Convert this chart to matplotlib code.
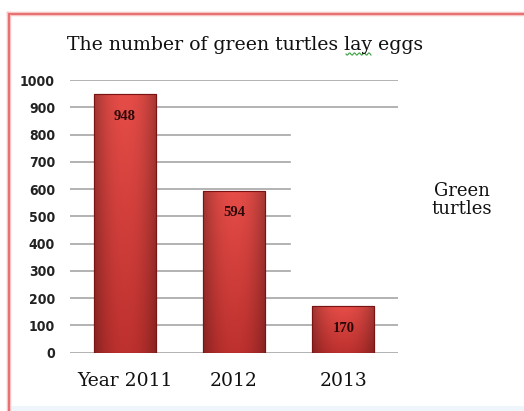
import numpy as np
import matplotlib
matplotlib.use("Agg")
import matplotlib.pyplot as plt
from matplotlib.patches import Rectangle
from matplotlib.transforms import ScaledTranslation
from matplotlib import font_manager

categories = ["Year 2011", "2012", "2013"]
values = [948, 594, 170]
value_labels = ["948", "594", "170"]
yticks = [0, 100, 200, 300, 400, 500, 600, 700, 800, 900, 1000]
title = "The number of green turtles lay eggs"
legend_label = "Green\nturtles"

W, H = 524, 411
fig = plt.figure(figsize=(W / 100, H / 100), dpi=100)
fig.patch.set_facecolor("white")

# frame and bottom strip
fig.patches.append(Rectangle((11 / W, 0), 1 - 11 / W, 5 / H, transform=fig.transFigure,
                             facecolor="#eef6fb", edgecolor="none", zorder=0))
for lw, c in [(3.2, "#f6c4c4"), (1.4, "#e87070")]:
    fig.add_artist(plt.Line2D([9 / W, 9 / W], [0, 1 - 14 / H], transform=fig.transFigure,
                              color=c, lw=lw, zorder=1))
    fig.add_artist(plt.Line2D([9 / W, 1], [1 - 14 / H, 1 - 14 / H], transform=fig.transFigure,
                              color=c, lw=lw, zorder=1))

ax = fig.add_axes([70 / W, (H - 352.7) / H, 328 / W, (352.7 - 80) / H])
ax.set_facecolor("none")
x = np.arange(len(categories))
ax.set_xlim(-0.5, 2.5)
ax.set_ylim(0, 1000)

# gridlines (middle ones are partially hidden in the original)
for t in yticks:
    xmax = 0.671 if 300 <= t <= 800 else 1.0
    ax.axhline(t, xmin=0, xmax=xmax, color="#a6a6a6", lw=1.2, zorder=1)

bars = ax.bar(x, values, width=0.57, color="#c83430", edgecolor="#7a1414", lw=0.8, zorder=2)

# shaded bar fill: darker at the sides and towards the bottom
hx = np.linspace(0, 1, 128)
side = 1 - 0.3 * np.abs(2 * hx - 1) ** 2.2
base_top = np.array([0.90, 0.30, 0.28])
base_bot = np.array([0.74, 0.19, 0.18])
for b in bars:
    x0, y0, bw, bh = b.get_x(), b.get_y(), b.get_width(), b.get_height()
    ny = 64
    vy = np.linspace(0, 1, ny)[:, None, None]  # 0 at top, 1 at bottom
    col = base_top * (1 - vy) + base_bot * vy
    img = np.clip(col * side[None, :, None], 0, 1)
    im = ax.imshow(img, extent=[x0, x0 + bw, y0, y0 + bh], aspect="auto", zorder=2.5,
                   interpolation="bilinear")
    im.set_clip_path(b)
    ax.add_patch(Rectangle((x0, y0), bw, bh, facecolor="none", edgecolor="#7a1414", lw=0.8, zorder=3))

for xi, v, lab in zip(x, values, value_labels):
    ax.annotate(lab, (xi, v), xytext=(0, -22), textcoords="offset pixels", ha="center", va="center",
                fontsize=10.5, fontweight="bold", family=["Liberation Serif", "DejaVu Serif"],
                color="#2a0808", zorder=4)

ax.set_xticks(x)
ax.set_xticklabels(categories, family="DejaVu Serif", fontsize=13.5, color="#111111")
label_shift = [10, 1, 7]
for lbl, dx in zip(ax.get_xticklabels(), label_shift):
    lbl.set_transform(lbl.get_transform() + ScaledTranslation(dx / 100, 0, fig.dpi_scale_trans))

ax.set_yticks(yticks)
narrow = font_manager.FontProperties(family="DejaVu Sans", weight="bold", stretch="condensed", size=10)
ax.set_yticklabels([str(t) for t in yticks])
for lbl in ax.get_yticklabels():
    lbl.set_fontproperties(narrow)
    lbl.set_color("#222222")
ax.tick_params(axis="both", length=0)
ax.tick_params(axis="x", pad=14)
ax.tick_params(axis="y", pad=10.8)
for s in ax.spines.values():
    s.set_visible(False)

fig.text(67 / W, 1 - 45 / H, title, family="DejaVu Serif", fontsize=13.6, ha="left", va="center",
         color="#111111")
# spell-check squiggle under "lay"
sx = np.linspace(346, 371, 25)
sy = 54 + 1.2 * np.sin((sx - 346) * 1.3)
fig.add_artist(plt.Line2D(sx / W, 1 - sy / H, transform=fig.transFigure, color="#3aa040", lw=0.8))

fig.text(462 / W, 1 - 200 / H, legend_label, family="DejaVu Serif", fontsize=13, ha="center",
         va="center", color="#111111", linespacing=1.05)

fig.savefig("out.png", dpi=100)
